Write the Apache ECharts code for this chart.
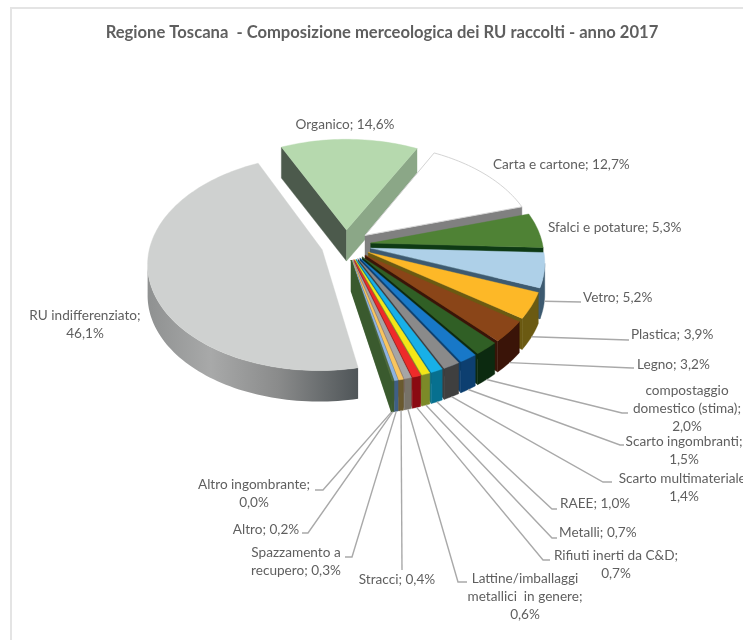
<!DOCTYPE html>
<html>
<head>
<meta charset="utf-8">
<style>html,body{margin:0;padding:0;background:#fff}#chart{width:743px;height:641px}</style>
<script src="https://cdn.jsdelivr.net/npm/echarts@6/dist/echarts.min.js"></script>
</head>
<body>
<div id="chart"></div>
<script>
// Waste composition by material, percent of collected municipal waste, clockwise order.
const categories = ['RU indifferenziato','Organico','Carta e cartone','Sfalci e potature','Vetro','Plastica','Legno',
  'compostaggio\ndomestico (stima)','Scarto ingombranti','Scarto multimateriale','RAEE','Metalli','Rifiuti inerti da C&D',
  'Lattine/imballaggi\nmetallici  in genere','Stracci','Spazzamento a\nrecupero','Altro','Altro ingombrante'];
const values = [46.1,14.6,12.7,5.3,5.2,3.9,3.2,2.0,1.5,1.4,1.0,0.7,0.7,0.6,0.4,0.3,0.2,0.0];
const topColors = ['#cfd1d0','#b6d9ae','#ffffff','#4f8235','#aed0e8','#fdb827','#8a4518','#305f25','#1878c8','#8a8a8a',
  '#18b0e8','#f5e617','#ee2a2a','#a6a6a6','#f9c55f','#8db3e2','#4e6b3a','#3a5a2e'];
// Side colours; a pair gives the start-cut and end-cut colours separately.
const wallColors = ['#8a8c8c',['#4c5a4c','#8ba787'],'#808080','#0e3a14','#3d5a70','#6b5a12','#3a1408','#0c2a10','#0d3f70','#3f3f3f',
  '#07708f','#7c8a28','#8a0a12','#777268','#6a5a30','#3f5f85','#3d5a30','#3a5a2e'];
// Label separator between name and value.
const labelSeparators = ['\n',' ',' ',' ',' ',' ',' ','\n','\n','\n',' ',' ','\n','\n',' ',' ',' ','\n'];
// Label layout: elbow, leader end, text anchor, alignment.
const labelLayout = [
  {text:[85,325],align:'center'},
  {text:[345,125],align:'center'},
  {text:[493,165],align:'left'},
  {text:[548,228],align:'left'},
  {elbow:[581,302],end:[581,302],text:[583,298],align:'left'},
  {elbow:[628,340],end:[629,340],text:[631,335],align:'left'},
  {elbow:[632,368],end:[634,368],text:[637,365],align:'left'},
  {elbow:[622,413],end:[628,413],text:[687,409],align:'center'},
  {elbow:[620,445],end:[624,445],text:[684,451],align:'center'},
  {elbow:[603,482],end:[612,482],text:[684,488],align:'center'},
  {elbow:[552,509],end:[557,509],text:[560,504],align:'left'},
  {elbow:[552,538],end:[557,538],text:[559,533],align:'left'},
  {elbow:[543,560],end:[550,560],text:[616,565],align:'center'},
  {elbow:[458,582],end:[467,582],text:[525,597],align:'center'},
  {elbow:[402,570],end:[402,570],text:[397,580],align:'center'},
  {elbow:[352,557],end:[345,557],text:[296,562],align:'center'},
  {elbow:[308,533],end:[302,533],text:[266,530],align:'center'},
  {elbow:[323,490],end:[315,490],text:[254,494],align:'center'}
];

// Projection of the tilted disc.
const ORIGIN = [346,245], RX = 172, RY = 105, PERSPECTIVE = 0.12, DEPTH = 31, EXPLODE = 0.145, START = -191.5;
const total = values.reduce((a,b)=>a+b,0);
const RAD = Math.PI/180;
const spans = [];
values.reduce((acc,v)=>{const e=acc+v/total*360;spans.push([acc,e]);return e;},START);

function project(u,v,z){
  const s = 1/(1-PERSPECTIVE*v);
  return [ORIGIN[0]+RX*u*s, ORIGIN[1]+RY*v*s+(z||0)];
}
function sliceGeometry(i){
  const [a,b] = spans[i], mid=(a+b)/2*RAD;
  const ox = EXPLODE*Math.sin(mid), oy = -EXPLODE*Math.cos(mid);
  const rim = (deg,z)=>project(ox+Math.sin(deg*RAD),oy-Math.cos(deg*RAD),z);
  return {a,b,mid,apex:project(ox,oy,0),rim,apexDown:project(ox,oy,DEPTH)};
}
const cross=(p,q)=>p[0]*q[1]-p[1]*q[0];
const minus=(p,q)=>[p[0]-q[0],p[1]-q[1]];
// A side is visible when pushing its top edge downwards moves it away from the slice interior.
const facesViewer=(from,to,inner)=>{
  const e=minus(to,from);
  return cross(e,[0,DEPTH])*cross(e,minus(inner,from))<0;
};
const face=(pts,fill)=>({type:'polygon',shape:{points:pts},style:{fill,stroke:typeof fill==='string'?fill:null,lineWidth:typeof fill==='string'?0.4:0}});

const rimGradient = new echarts.graphic.LinearGradient(0,0,1,0,[
  {offset:0,color:'#8f9191'},{offset:0.3,color:'#a8a9a9'},{offset:0.62,color:'#8a8b8b'},{offset:1,color:'#4f5558'}]);

function renderSlice(params){
  const i = params.dataIndex, g = sliceGeometry(i), children=[];
  const wc = wallColors[i], startWall = Array.isArray(wc)?wc[0]:wc, endWall = Array.isArray(wc)?wc[1]:wc;
  const steps = Math.max(1,Math.ceil((g.b-g.a)/1.5));
  const arc=[]; for(let k=0;k<=steps;k++) arc.push(g.a+(g.b-g.a)*k/steps);

  const q0=g.rim(g.a,0), q1=g.rim(g.b,0);
  if(facesViewer(g.apex,q0,g.rim(g.a+5,0)))
    children.push(face([g.apex,q0,g.rim(g.a,DEPTH),g.apexDown],startWall));
  if(facesViewer(g.apex,q1,g.rim(g.b-5,0)))
    children.push(face([g.apex,q1,g.rim(g.b,DEPTH),g.apexDown],endWall));

  // Outer rim: contiguous visible runs become one polygon.
  let run=[];
  const flush=()=>{
    if(run.length>1){
      const top=run.map(d=>g.rim(d,0)), bottom=run.map(d=>g.rim(d,DEPTH)).reverse();
      children.push(face(top.concat(bottom),i===0?rimGradient:endWall));
    }
    run=[];
  };
  for(let k=0;k<steps;k++){
    const A=g.rim(arc[k],0),B=g.rim(arc[k+1],0);
    if(facesViewer(A,B,g.apex)){ if(!run.length) run.push(arc[k]); run.push(arc[k+1]); }
    else flush();
  }
  flush();

  const top=[g.apex].concat(arc.map(d=>g.rim(d,0)));
  const outlined = topColors[i]==='#ffffff';
  children.push({type:'polygon',shape:{points:top},style:{fill:topColors[i],stroke:outlined?'#d4d4d4':topColors[i],lineWidth:outlined?1:0.4}});

  // Leader line and label.
  const L = labelLayout[i];
  if(L.elbow){
    const start=g.rim((g.a+g.b)/2,DEPTH);
    children.push({type:'polyline',shape:{points:[start,L.elbow,L.end]},style:{fill:null,stroke:'#a9a9a9',lineWidth:1.4}});
  }
  const valueText = values[i].toFixed(1).replace('.',',')+'%';
  children.push({type:'text',style:{text:categories[i]+';'+labelSeparators[i]+valueText,x:L.text[0],y:L.text[1],
    align:L.align,verticalAlign:'middle',fill:'#5f5f5f',font:'13.6px Lato',lineHeight:18}});
  return {type:'group',children};
}

const chart = echarts.init(document.getElementById('chart'),null,{renderer:'canvas'});
chart.setOption({
  animation:false,
  backgroundColor:'#ffffff',
  title:{text:'Regione Toscana  - Composizione merceologica dei RU raccolti - anno 2017',left:377,top:19,textAlign:'center',
    textStyle:{fontFamily:'Lato',fontSize:16.6,fontWeight:'bold',color:'#5f5f5f'}},
  graphic:[{type:'polyline',shape:{points:[[11,640],[11,8],[743,8]]},style:{fill:null,stroke:'#e4e4e4',lineWidth:2},silent:true}],
  series:[{type:'custom',coordinateSystem:'none',renderItem:renderSlice,
    data:values.map((v,i)=>({name:categories[i],value:v})),silent:true}]
});
</script>
</body>
</html>
